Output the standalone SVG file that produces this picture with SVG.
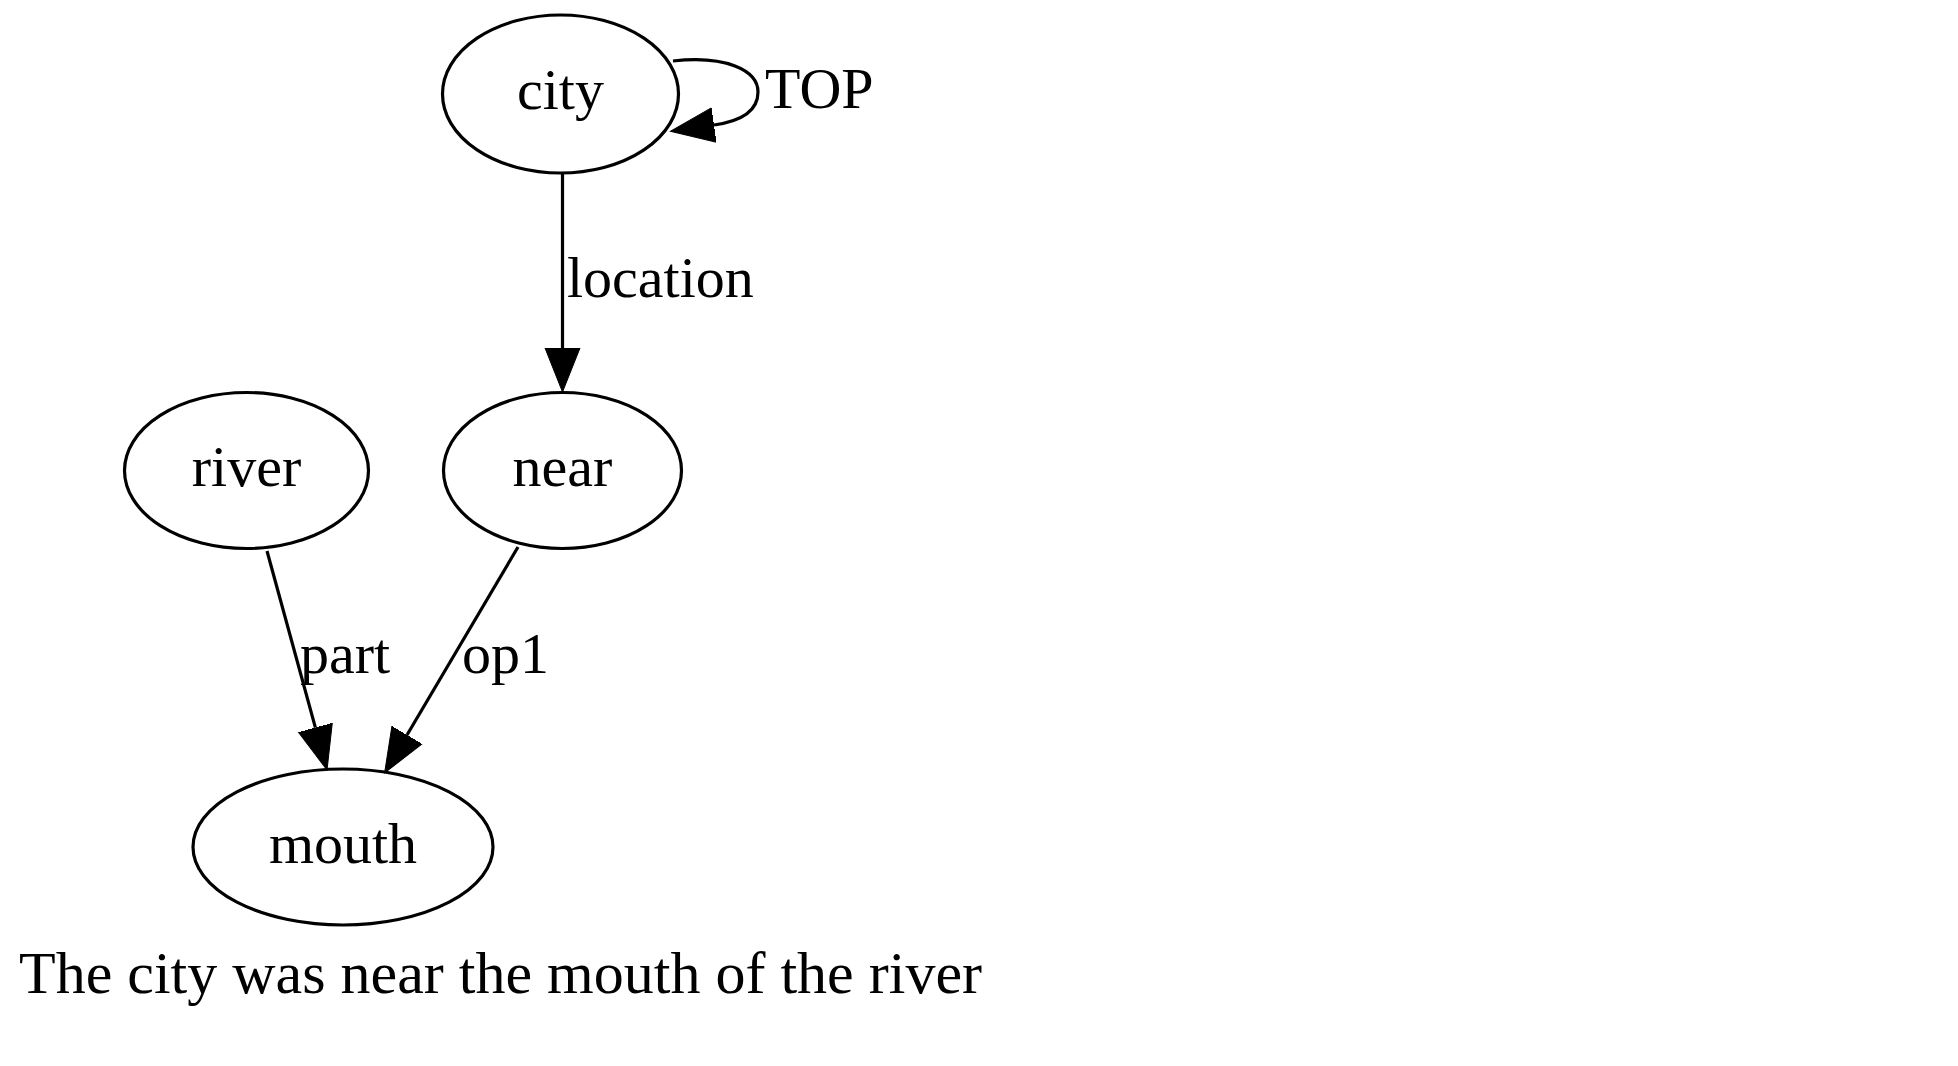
<svg xmlns="http://www.w3.org/2000/svg" width="1958" height="1066" viewBox="0 0 1958 1066">
<style>
.n ellipse{fill:none;stroke:#000;stroke-width:3.2}
.t{font-family:"Liberation Serif","Times New Roman",serif;font-size:58px;fill:#000}
.c{text-anchor:middle}
.e path{fill:none;stroke:#000;stroke-width:3.2}
</style>
<defs>
<marker id="arr" markerUnits="userSpaceOnUse" markerWidth="46" markerHeight="38" viewBox="0 -19 46 38" refX="0" refY="0" orient="auto">
<path d="M0,-17.5 L44,0 L0,17.5 Z" fill="#000" stroke="#000" stroke-width="1"/>
</marker>
</defs>
<rect width="1958" height="1066" fill="#fff"/>
<g id="edges" class="e">
<g id="e-top"><path d="M673,61 C725,55 758,70 758,92 C758,110 742,121 714,125" marker-end="url(#arr)"/><text class="t" x="765" y="108">TOP</text></g>
<g id="e-location"><path d="M562.5,172 L562.5,348" marker-end="url(#arr)"/><text class="t" x="567" y="297">location</text></g>
<g id="e-part"><path d="M267,551 L315.4,727.6" marker-end="url(#arr)"/><text class="t" x="300" y="673">part</text></g>
<g id="e-op1"><path d="M518,547 L407,735" marker-end="url(#arr)"/><text class="t" x="462" y="673">op1</text></g>
</g>
<g id="city" class="n"><ellipse cx="560.5" cy="94" rx="118" ry="79"/><text class="t c" x="560.5" y="109">city</text></g>
<g id="river" class="n"><ellipse cx="246.5" cy="470.5" rx="122" ry="78"/><text class="t c" x="246.5" y="486">river</text></g>
<g id="near" class="n"><ellipse cx="562.5" cy="470.5" rx="119" ry="78"/><text class="t c" x="562.5" y="486">near</text></g>
<g id="mouth" class="n"><ellipse cx="343" cy="847" rx="150" ry="78"/><text class="t c" x="343" y="863">mouth</text></g>
<text id="caption" class="t" x="19" y="993" style="font-size:60px">The city was near the mouth of the river</text>
</svg>
